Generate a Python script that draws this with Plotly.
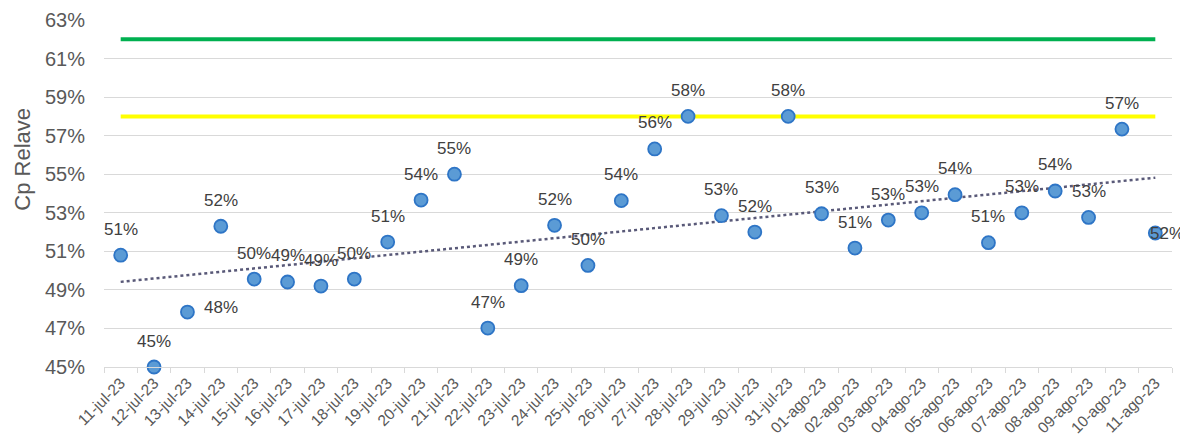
import numpy as np
import plotly.graph_objects as go

dates = ["11-jul-23", "12-jul-23", "13-jul-23", "14-jul-23", "15-jul-23", "16-jul-23",
         "17-jul-23", "18-jul-23", "19-jul-23", "20-jul-23", "21-jul-23", "22-jul-23",
         "23-jul-23", "24-jul-23", "25-jul-23", "26-jul-23", "27-jul-23", "28-jul-23",
         "29-jul-23", "30-jul-23", "31-jul-23", "01-ago-23", "02-ago-23", "03-ago-23",
         "04-ago-23", "05-ago-23", "06-ago-23", "07-ago-23", "08-ago-23", "09-ago-23",
         "10-ago-23", "11-ago-23"]

cp_relave = [0.508, 0.450, 0.4785, 0.523, 0.4956, 0.4941, 0.492, 0.4956, 0.5148, 0.5366,
             0.550, 0.4702, 0.4922, 0.5235, 0.5027, 0.5363, 0.5631, 0.580, 0.5285, 0.520,
             0.580, 0.5295, 0.5117, 0.5262, 0.530, 0.5394, 0.5145, 0.530, 0.5413, 0.5276,
             0.5734, 0.5195]

green_limit = [0.62] * len(dates)
yellow_limit = [0.58] * len(dates)

# label offsets (px) for the data labels that Excel placed to the right
label_xshift = {"13-jul-23": 34, "11-ago-23": 12}
label_yshift = {"13-jul-23": 5, "11-ago-23": 0}

idx = np.arange(len(cp_relave))
slope, intercept = np.polyfit(idx, cp_relave, 1)
trend = list(slope * idx + intercept)

fig = go.Figure()
fig.add_trace(go.Scatter(x=dates, y=green_limit, mode="lines",
                         line=dict(color="#00B050", width=4), hoverinfo="skip"))
fig.add_trace(go.Scatter(x=dates, y=yellow_limit, mode="lines",
                         line=dict(color="#FFFF00", width=4), hoverinfo="skip"))
fig.add_trace(go.Scatter(x=dates, y=trend, mode="lines",
                         line=dict(color="#595978", width=2.5, dash="dot"), hoverinfo="skip"))
fig.add_trace(go.Scatter(x=dates, y=cp_relave, mode="markers", cliponaxis=False,
                         marker=dict(size=13, color="#5B9BD5",
                                     line=dict(color="#2E75C6", width=1.8))))

for d, v in zip(dates, cp_relave):
    fig.add_annotation(x=d, y=v, text=f"{round(v * 100):.0f}%", showarrow=False,
                       xanchor="center", yanchor="middle",
                       xshift=label_xshift.get(d, 0), yshift=label_yshift.get(d, 26),
                       font=dict(size=17, color="#404040", family="Liberation Sans, Arial"))

fig.add_annotation(xref="paper", yref="paper", x=-0.076, y=0.6, text="Cp Relave",
                   textangle=-90, showarrow=False, xanchor="center", yanchor="middle",
                   font=dict(size=22, color="#595959", family="Liberation Sans, Arial"))

fig.update_layout(
    width=1180, height=433,
    margin=dict(l=96, r=16, t=12, b=74),
    paper_bgcolor="white", plot_bgcolor="white",
    showlegend=False,
    font=dict(family="Liberation Sans, Arial", color="#595959"),
)
fig.update_xaxes(type="category", range=[-0.5, len(dates) - 0.5], tickangle=-45,
                 tickson="boundaries", ticks="outside", ticklen=5, tickcolor="#D9D9D9",
                 showline=True, linecolor="#D9D9D9", linewidth=1,
                 showgrid=False, automargin=False,
                 tickfont=dict(size=15.5, color="#595959"))
fig.update_yaxes(range=[0.45, 0.63], dtick=0.02, tick0=0.45, tickformat=".0%",
                 showgrid=True, gridcolor="#D9D9D9", gridwidth=1, zeroline=False,
                 showline=False, ticks="", ticklabelstandoff=18, automargin=False,
                 tickfont=dict(size=20, color="#595959"))

fig.write_html("out.html")
